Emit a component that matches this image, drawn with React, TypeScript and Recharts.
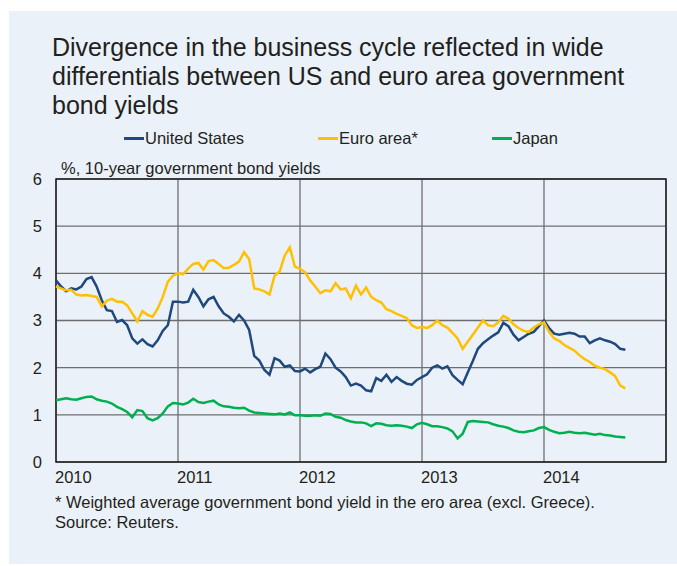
import { LineChart, Line, XAxis, YAxis, CartesianGrid, ReferenceArea } from 'recharts'

// semi-monthly observations, starting 1 Jan 2010
const unitedStates = [
  3.85, 3.72, 3.62, 3.68, 3.66, 3.72, 3.88, 3.92, 3.72, 3.43, 3.22, 3.20, 2.97, 3.01, 2.90, 2.62, 2.51, 2.60, 2.50, 2.45, 2.58, 2.78, 2.90, 3.40,
  3.40, 3.38, 3.40, 3.65, 3.50, 3.30, 3.45, 3.50, 3.30, 3.15, 3.08, 2.98, 3.12, 3.00, 2.80, 2.25, 2.15, 1.95, 1.85, 2.20, 2.15, 2.02, 2.05, 1.93,
  1.92, 1.98, 1.90, 1.97, 2.02, 2.30, 2.18, 2.00, 1.92, 1.80, 1.62, 1.66, 1.62, 1.52, 1.50, 1.78, 1.72, 1.85, 1.70, 1.80, 1.72, 1.66, 1.64, 1.74,
  1.80, 1.86, 2.00, 2.05, 1.98, 2.03, 1.84, 1.74, 1.65, 1.90, 2.14, 2.40, 2.52, 2.60, 2.68, 2.75, 2.95, 2.88, 2.70, 2.58, 2.65, 2.72, 2.76, 2.88,
  3.00, 2.84, 2.72, 2.70, 2.72, 2.74, 2.72, 2.66, 2.66, 2.52, 2.58, 2.62, 2.58, 2.55, 2.50, 2.40, 2.38,
]

const euroArea = [
  3.72, 3.68, 3.64, 3.65, 3.55, 3.53, 3.54, 3.52, 3.50, 3.30, 3.42, 3.46, 3.40, 3.40, 3.32, 3.15, 2.98, 3.20, 3.12, 3.08, 3.25, 3.50, 3.82, 3.95,
  4.00, 3.98, 4.10, 4.20, 4.22, 4.08, 4.26, 4.28, 4.20, 4.11, 4.12, 4.18, 4.25, 4.45, 4.30, 3.68, 3.66, 3.62, 3.55, 3.95, 4.04, 4.38, 4.55, 4.14,
  4.10, 4.02, 3.85, 3.72, 3.58, 3.64, 3.62, 3.79, 3.66, 3.68, 3.47, 3.74, 3.55, 3.70, 3.50, 3.43, 3.38, 3.24, 3.20, 3.14, 3.10, 3.05, 2.90, 2.84,
  2.86, 2.84, 2.90, 3.00, 2.90, 2.85, 2.74, 2.62, 2.40, 2.55, 2.70, 2.85, 3.00, 2.90, 2.88, 2.96, 3.10, 3.04, 2.92, 2.84, 2.78, 2.76, 2.85, 2.92,
  2.96, 2.76, 2.62, 2.57, 2.48, 2.42, 2.36, 2.26, 2.18, 2.12, 2.04, 2.00, 1.97, 1.90, 1.82, 1.62, 1.56,
]

const japan = [
  1.31, 1.33, 1.35, 1.33, 1.32, 1.35, 1.38, 1.39, 1.33, 1.30, 1.28, 1.24, 1.17, 1.12, 1.06, 0.95, 1.10, 1.08, 0.93, 0.88, 0.93, 1.03, 1.18, 1.25,
  1.24, 1.22, 1.26, 1.34, 1.27, 1.25, 1.28, 1.30, 1.22, 1.18, 1.17, 1.15, 1.14, 1.15, 1.09, 1.05, 1.04, 1.03, 1.02, 1.01, 1.03, 1.01, 1.05, 0.99,
  0.99, 0.98, 0.98, 0.99, 0.98, 1.03, 1.02, 0.96, 0.94, 0.89, 0.86, 0.84, 0.84, 0.82, 0.76, 0.82, 0.81, 0.78, 0.77, 0.78, 0.77, 0.75, 0.72, 0.80,
  0.83, 0.80, 0.76, 0.76, 0.74, 0.71, 0.65, 0.50, 0.60, 0.85, 0.87, 0.86, 0.85, 0.84, 0.80, 0.77, 0.75, 0.72, 0.67, 0.64, 0.63, 0.65, 0.67, 0.72,
  0.74, 0.68, 0.64, 0.61, 0.62, 0.64, 0.62, 0.61, 0.62, 0.60, 0.58, 0.60, 0.57, 0.56, 0.54, 0.53, 0.52,
]

const yearTicks = [2010, 2011, 2012, 2013, 2014]
const yTicks = [0, 1, 2, 3, 4, 5, 6]

const series = [
  { key: 'us', name: 'United States', color: '#1f497d', left: 124 },
  { key: 'euro', name: 'Euro area*', color: '#ffc000', left: 318 },
  { key: 'japan', name: 'Japan', color: '#00b050', left: 492 },
]

const data = unitedStates.map((us, i) => ({
  t: 2010 + i / 24,
  us,
  euro: euroArea[i],
  japan: japan[i],
}))

const FONT = '"Liberation Sans", Arial, sans-serif'
const TEXT = '#231f20'

function YearTick(props: any) {
  const { x, y, payload } = props
  return (
    <text x={x - 1} y={y} dy={13} textAnchor="start" fontSize={16.5} fill={TEXT} fontFamily={FONT}>
      {payload.value}
    </text>
  )
}

export default function App() {
  return (
    <div style={{ position: 'absolute', left: 0, top: 0, width: 677, height: 566, background: '#fff', fontFamily: FONT, color: TEXT }}>
      <div style={{ position: 'absolute', left: 9, top: 11, width: 668, height: 553, background: '#eaf1f8' }} />
      <div style={{ position: 'absolute', left: 52, top: 33, width: 620, fontSize: 25, lineHeight: '29px' }}>
        Divergence in the business cycle reflected in wide differentials between US and euro area government bond yields
      </div>
      {series.map(s => (
        <div key={s.key} style={{ position: 'absolute', left: s.left, top: 128, display: 'flex', alignItems: 'center', fontSize: 16.5, lineHeight: '20px' }}>
          <span style={{ display: 'inline-block', width: 20, height: 3, background: s.color, marginRight: 1 }} />
          {s.name}
        </div>
      ))}
      <div style={{ position: 'absolute', left: 61, top: 158, fontSize: 16.5, lineHeight: '20px' }}>
        %, 10-year government bond yields
      </div>
      <div style={{ position: 'absolute', left: 55, top: 492, fontSize: 16.5, lineHeight: '20px' }}>
        * Weighted average government bond yield in the ero area (excl. Greece).
        <br />
        Source: Reuters.
      </div>
      <LineChart
        width={677}
        height={566}
        data={data}
        margin={{ top: 179, right: 11, bottom: 74, left: 0 }}
        style={{ position: 'absolute', left: 0, top: 0 }}
      >
        <CartesianGrid stroke="#6e6e6e" strokeWidth={1.3} />
        <XAxis
          dataKey="t"
          type="number"
          domain={[2010, 2015]}
          ticks={yearTicks}
          height={30}
          axisLine={false}
          tickLine={false}
          tick={<YearTick />}
          interval={0}
        />
        <YAxis
          domain={[0, 6]}
          ticks={yTicks}
          width={56}
          axisLine={false}
          tickLine={false}
          tickSize={6}
          tickMargin={8}
          tick={{ fontSize: 16.5, fill: TEXT, fontFamily: FONT }}
          interval={0}
        />
        <ReferenceArea x1={2010} x2={2015} y1={0} y2={6} fill="none" stroke="#222" strokeWidth={1.5} />
        {series.map(s => (
          <Line
            key={s.key}
            type="linear"
            dataKey={s.key}
            name={s.name}
            stroke={s.color}
            strokeWidth={2.5}
            dot={false}
            isAnimationActive={false}
          />
        ))}
      </LineChart>
    </div>
  )
}
